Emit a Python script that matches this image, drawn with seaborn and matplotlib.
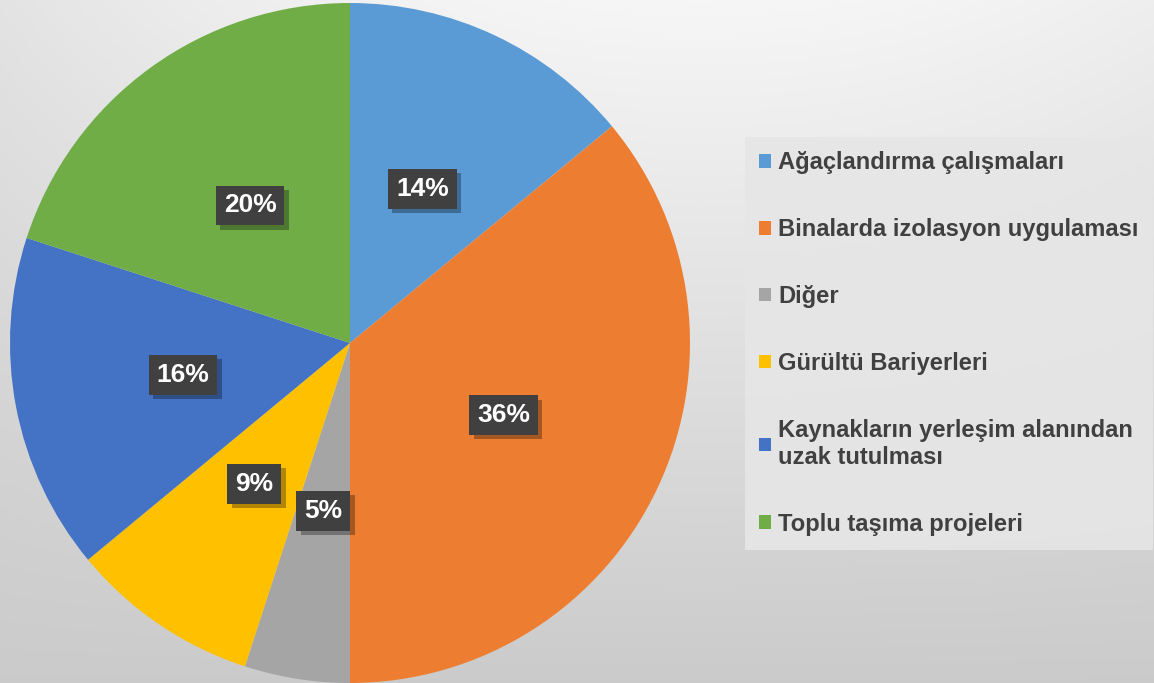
import numpy as np
import matplotlib
matplotlib.use("Agg")
import matplotlib.pyplot as plt
import matplotlib.patheffects as pe
import seaborn as sns
from matplotlib.patches import Patch

sns.set_theme(style="white")
plt.rcParams['font.family'] = ['Liberation Sans', 'DejaVu Sans']

categories = ["Ağaçlandırma çalışmaları",
              "Binalarda izolasyon uygulaması",
              "Diğer",
              "Gürültü Bariyerleri",
              "Kaynakların yerleşim alanından\nuzak tutulması",
              "Toplu taşıma projeleri"]
values = [14, 36, 5, 9, 16, 20]
colors = ["#5B9BD5", "#ED7D31", "#A5A5A5", "#FFC000", "#4472C4", "#70AD47"]

W, H = 1154, 683
fig = plt.figure(figsize=(W / 100, H / 100), dpi=100)

# background gradient
bg = fig.add_axes([0, 0, 1, 1], zorder=-10)
yy, xx = np.mgrid[0:H, 0:W]
dx = (xx - 700) / 700.0
fy = yy / H
g = 0.965 - 0.074 * dx ** 2 * (1 - fy) - 0.17 * fy
bg.imshow(np.dstack([g, g, g]), extent=[0, 1, 0, 1], aspect='auto', origin='upper')
bg.set_axis_off()

# pie
ax = fig.add_axes([10 / W, 0 / H, 680 / W, 680 / H])
wedges, texts, autotexts = ax.pie(
    values, colors=colors, startangle=90, counterclock=False,
    autopct=lambda p: f"{p:.0f}%", pctdistance=0.5, radius=1.0,
    wedgeprops=dict(linewidth=0),
    textprops=dict(color="white", fontsize=19, fontweight="bold"))
for t in autotexts:
    t.set_bbox(dict(boxstyle="square,pad=0.3", facecolor="#404040", edgecolor="none"))
    t.get_bbox_patch().set_path_effects(
        [pe.withSimplePatchShadow(offset=(3, -3), shadow_rgbFace="black", alpha=0.3)])
ax.set_xlim(-1, 1)
ax.set_ylim(-1, 1)
ax.set_aspect('equal')

handles = [Patch(facecolor=c, edgecolor="none") for c in colors]
leg = fig.legend(handles, categories, loc="upper left",
                 bbox_to_anchor=(745 / W, 1 - 137 / H), frameon=True,
                 fontsize=17.1, handlelength=0.5, handleheight=0.5,
                 handletextpad=0.3, labelspacing=1.85, borderpad=0.6,
                 borderaxespad=0, fancybox=False)
frame = leg.get_frame()
frame.set_facecolor("#e6e6e6")
frame.set_edgecolor("none")
frame.set_alpha(0.9)
for t in leg.get_texts():
    t.set_color("#404040")
    t.set_fontweight("bold")

fig.savefig("out.png", dpi=100)
